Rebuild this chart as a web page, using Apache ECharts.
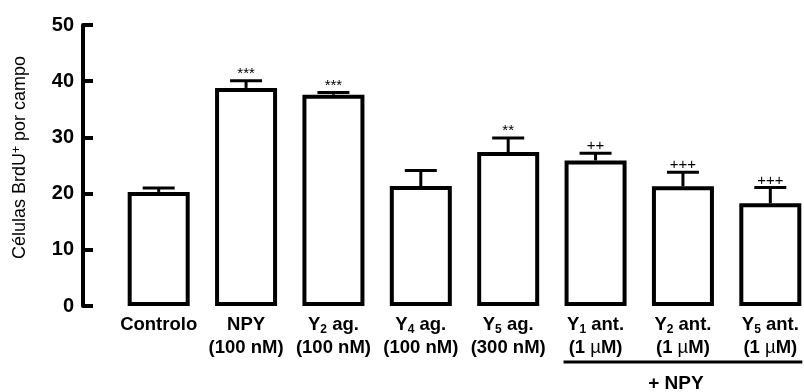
<!DOCTYPE html>
<html>
<head>
<meta charset="utf-8">
<script src="https://cdn.jsdelivr.net/npm/echarts@6/dist/echarts.min.js"></script>
<style>
html,body{margin:0;padding:0;background:#fff;}
#c{width:804px;height:392px;}
</style>
</head>
<body>
<div id="c"></div>
<script>
// ---- data ----
const categories = ['Controlo', 'NPY', 'Y2 ag.', 'Y4 ag.', 'Y5 ag.', 'Y1 ant.', 'Y2 ant.', 'Y5 ant.'];
const labelMain = ['Controlo', 'NPY', 'Y', 'Y', 'Y', 'Y', 'Y', 'Y'];
const labelSub = ['', '', '2', '4', '5', '1', '2', '5'];
const labelSuffix = ['', '', ' ag.', ' ag.', ' ag.', ' ant.', ' ant.', ' ant.'];
const labelDose = ['', '(100 nM)', '(100 nM)', '(100 nM)', '(300 nM)', '(1 µM)', '(1 µM)', '(1 µM)'];
const means = [20.3, 38.8, 37.6, 21.35, 27.4, 25.9, 21.3, 18.3];
const sem = [0.7, 1.3, 0.4, 2.75, 2.5, 1.3, 2.5, 2.8];
const sig = ['', '***', '***', '', '**', '++', '+++', '+++'];
const yMin = 0, yMax = 50, yStep = 10;
const groupLabel = '+ NPY';
const groupFrom = 5, groupTo = 7;

const FONT = "'Liberation Sans', Arial, sans-serif";
const chart = echarts.init(document.getElementById('c'), null, {renderer: 'canvas'});

function xLabel(value, idx) {
  let s = '';
  if (labelSub[idx]) {
    s = '{b|' + labelMain[idx] + '}{s|' + labelSub[idx] + '}{b|' + labelSuffix[idx] + '}';
  } else {
    s = '{b|' + labelMain[idx] + labelSuffix[idx] + '}';
  }
  if (labelDose[idx]) {
    const d = labelDose[idx];
    if (d.indexOf('µ') >= 0) {
      const parts = d.split('µ');
      s += '\n{b|' + parts[0] + '}{m|µ}{b|' + parts[1] + '}';
    } else {
      s += '\n{b|' + d + '}';
    }
  }
  return s;
}

const errData = categories.map((c, i) => [i, means[i], sem[i]]);

chart.setOption({
  animation: false,
  backgroundColor: '#ffffff',
  grid: {left: 115, width: 699, top: 25, bottom: 86, containLabel: false, outerBoundsMode: 'none'},
  xAxis: {
    type: 'category',
    data: categories,
    axisLine: {show: false},
    axisTick: {show: false},
    axisLabel: {
      interval: 0,
      margin: 7,
      hideOverlap: false,
      formatter: xLabel,
      color: '#000',
      rich: {
        b: {fontFamily: FONT, fontSize: 18.5, fontWeight: 'bold', color: '#000', lineHeight: 23},
        s: {fontFamily: FONT, fontSize: 12, fontWeight: 'bold', color: '#000', lineHeight: 10, verticalAlign: 'bottom'},
        m: {fontFamily: FONT, fontSize: 18.5, fontWeight: 'normal', color: '#000', lineHeight: 23}
      }
    }
  },
  yAxis: {
    type: 'value',
    min: yMin, max: yMax, interval: yStep,
    offset: 32,
    splitLine: {show: false},
    axisLine: {show: true, lineStyle: {color: '#000', width: 4}},
    axisTick: {show: true, inside: true, length: 10, lineStyle: {color: '#000', width: 4}},
    axisLabel: {margin: 9, color: '#000', fontFamily: FONT, fontSize: 20, fontWeight: 'bold'},
    name: 'Células BrdU{sup|+} por campo',
    nameLocation: 'middle',
    nameGap: 54,
    nameTextStyle: {
      fontFamily: FONT, fontSize: 18, color: '#000',
      padding: [0, 0, 0, 16],
      rich: {
        sup: {fontFamily: FONT, fontSize: 12, color: '#000', verticalAlign: 'top', lineHeight: 10}
      }
    }
  },
  series: [
    {
      type: 'bar',
      data: means,
      barWidth: 62,
      itemStyle: {color: '#ffffff', borderColor: '#000', borderWidth: 4},
      z: 2
    },
    {
      type: 'custom',
      data: errData,
      z: 3,
      renderItem: function (params, api) {
        const i = api.value(0), m = api.value(1), e = api.value(2);
        const base = api.coord([i, m]);
        const top = api.coord([i, m + e]);
        const children = [
          {type: 'line', shape: {x1: base[0], y1: base[1], x2: top[0], y2: top[1]}, style: {stroke: '#000', lineWidth: 3}},
          {type: 'line', shape: {x1: top[0] - 16, y1: top[1], x2: top[0] + 16, y2: top[1]}, style: {stroke: '#000', lineWidth: 3}}
        ];
        if (sig[i]) {
          children.push({type: 'text', style: {text: sig[i], x: top[0], y: top[1] - 7, align: 'center', verticalAlign: 'middle', font: '15px ' + FONT, fill: '#000'}});
        }
        return {type: 'group', children: children};
      }
    }
  ]
});

// group bracket "+ NPY" placed from axis conversions
const pFrom = chart.convertToPixel({xAxisIndex: 0, yAxisIndex: 0}, [groupFrom, 0]);
const pTo = chart.convertToPixel({xAxisIndex: 0, yAxisIndex: 0}, [groupTo, 0]);
const halfBar = 32;
const lineY = pFrom[1] + 56;
chart.setOption({
  graphic: [
    {type: 'line', shape: {x1: pFrom[0] - halfBar, y1: lineY, x2: pTo[0] + halfBar, y2: lineY}, style: {stroke: '#000', lineWidth: 3}},
    {type: 'text', style: {text: groupLabel, x: (pFrom[0] + pTo[0]) / 2 - 7, y: lineY + 22, align: 'center', verticalAlign: 'middle', font: 'bold 19px ' + FONT, fill: '#000'}}
  ]
});
</script>
</body>
</html>
